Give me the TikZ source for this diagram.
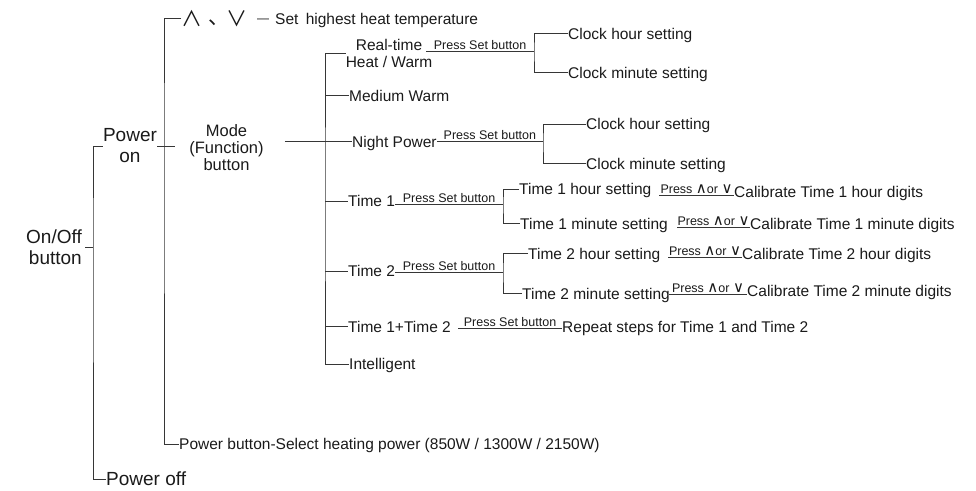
\documentclass[tikz,border=0pt]{standalone}
\usepackage{fontspec}
\setmainfont{Liberation Sans}
\newfontfamily\cjk{Noto Sans CJK SC}
\newfontfamily\djv{DejaVu Sans}
\definecolor{ln}{HTML}{363636}
\definecolor{tx}{HTML}{1A1A1A}
\newcommand\pressud{Press {\djv\fontsize{15}{14}\selectfont ∧}or {\djv\fontsize{15}{14}\selectfont ∨}}
\begin{document}
\begin{tikzpicture}[x=1pt,y=-1pt,
  line/.style={draw=ln, line width=0.9pt},
  txt/.style={font=\fontsize{15.5}{17}\selectfont, text=tx, inner sep=0pt, anchor=west, text height=11.1pt, text depth=0pt},
  two/.style={font=\fontsize{15.5}{17}\selectfont, text=tx, inner sep=0pt, align=center},
  big/.style={font=\fontsize{19}{21}\selectfont, text=tx, inner sep=0pt},
  modef/.style={font=\fontsize{16.5}{17}\selectfont, text=tx, inner sep=0pt, align=center},
  lbl/.style={font=\fontsize{12.5}{14}\selectfont, text=tx, inner sep=0pt, above, text height=9pt, text depth=0pt, yshift=1.2pt},
]
\useasboundingbox (0,0) rectangle (976,490);

% nodes
\node[big, align=right, anchor=east] (onoff) at (82,247.5) {On/Off\hspace{7pt}\\button};
\node[big, align=center] (poweron) at (130,146) {Power\\on};
\node[txt, font=\fontsize{19}{21}\selectfont, text height=13.6pt] (poweroff) at (106,479) {Power off};
\node[modef] (mode) at (226.5,148) {Mode\\(Function)\\button};
\node[txt] (top) at (181,18.5) {\makebox[21pt]{\raisebox{-2pt}{\cjk\fontsize{21}{21}\selectfont ∧}}\makebox[12pt][l]{\hspace{6pt}\cjk\fontsize{21}{21}\selectfont 、}\makebox[45pt]{\raisebox{-2pt}{\cjk\fontsize{21}{21}\selectfont ∨}}\makebox[8pt]{\raisebox{1.8pt}{\fontsize{12}{12}\selectfont —}}\hspace{8pt}Set\hspace{3pt} highest heat temperature};
\node[two] (rt) at (389,53.5) {Real-time\\Heat / Warm};
\node[txt] (ch1) at (568,33.5) {Clock hour setting};
\node[txt] (cm1) at (568,72.7) {Clock minute setting};
\node[txt] (mw) at (349,95.5) {Medium Warm};
\node[txt] (np) at (352,141.5) {Night Power};
\node[txt] (ch2) at (586,124.3) {Clock hour setting};
\node[txt] (cm2) at (586,163.5) {Clock minute setting};
\node[txt] (t1) at (348,201) {Time 1};
\node[txt] (t1h) at (519,189) {Time 1 hour setting};
\node[txt] (t1m) at (520,223.5) {Time 1 minute setting};
\node[txt] (c1h) at (734,191.5) {Calibrate Time 1 hour digits};
\node[txt] (c1m) at (750,224) {Calibrate Time 1 minute digits};
\node[txt] (t2) at (348,271) {Time 2};
\node[txt] (t2h) at (528,253.5) {Time 2 hour setting};
\node[txt] (t2m) at (522,293.5) {Time 2 minute setting};
\node[txt] (c2h) at (742,254) {Calibrate Time 2 hour digits};
\node[txt] (c2m) at (747,291) {Calibrate Time 2 minute digits};
\node[txt] (tt) at (348,326.5) {Time 1+Time 2};
\node[txt] (rep) at (562,326.5) {Repeat steps for Time 1 and Time 2};
\node[txt] (intel) at (349,364) {Intelligent};
\node[txt] (pb) at (179,444) {Power button-Select heating power (850W / 1300W / 2150W)};

% junctions
\coordinate (b1) at (93,248);
\coordinate (b2) at (164,146);
\coordinate (mb) at (325,200);
\coordinate (rts) at (426,51);
\coordinate (j1) at (534,51);
\coordinate (j2) at (543,141.5);
\coordinate (j3) at (503,204);
\coordinate (j4) at (503,272);
\coordinate (p1) at (659,195.5);
\coordinate (p2) at (677,227);
\coordinate (p3) at (668,257);
\coordinate (p4) at (669,294);
\coordinate (tts) at (458,328);

% connectors
\draw[line, shorten <=3pt] (onoff.east) -- (onoff.east -| b1);
\draw[line] (poweron.west) -| (b1) |- (poweroff.west);
\draw[line, shorten >=14pt] (poweron.east) -- (poweron.east -| mode.west);
\draw[line] (top.west) -| (b2) |- (pb.west);
\draw[line] (mode.east |- np.west) ++(21,0) -- (np.west);
\draw[line] (rt.west) -| (mb) |- (intel.west);
\draw[line] (mb |- mw.west) -- (mw.west);
\draw[line] (mb |- t1.west) -- (t1.west);
\draw[line] (mb |- t2.west) -- (t2.west);
\draw[line] (mb |- tt.west) -- (tt.west);
\draw[line] (rts) -- node[lbl] (l1) {Press Set button} (j1);
\draw[line] (ch1.west) -| (j1) |- (cm1.west);
\draw[line] (np.east) -- node[lbl] (l2) {Press Set button} (j2);
\draw[line] (ch2.west) -| (j2) |- (cm2.west);
\draw[line] (t1.east |- j3) -- node[lbl] (l3) {Press Set button} (j3);
\draw[line] (t1h.west) -| (j3) |- (t1m.west);
\draw[line] (t2.east |- j4) -- node[lbl] (l4) {Press Set button} (j4);
\draw[line] (t2h.west) -| (j4) |- (t2m.west);
\draw[line] (p1) -- node[lbl] (l5) {\pressud} (c1h.west |- p1);
\draw[line] (p2) -- node[lbl] (l6) {\pressud} (c1m.west |- p2);
\draw[line] (p3) -- node[lbl] (l7) {\pressud} (c2h.west |- p3);
\draw[line] (p4) -- node[lbl] (l8) {\pressud} (c2m.west |- p4);
\draw[line] (tts) -- node[lbl] (l9) {Press Set button} (rep.west |- tts);
\end{tikzpicture}
\end{document}
